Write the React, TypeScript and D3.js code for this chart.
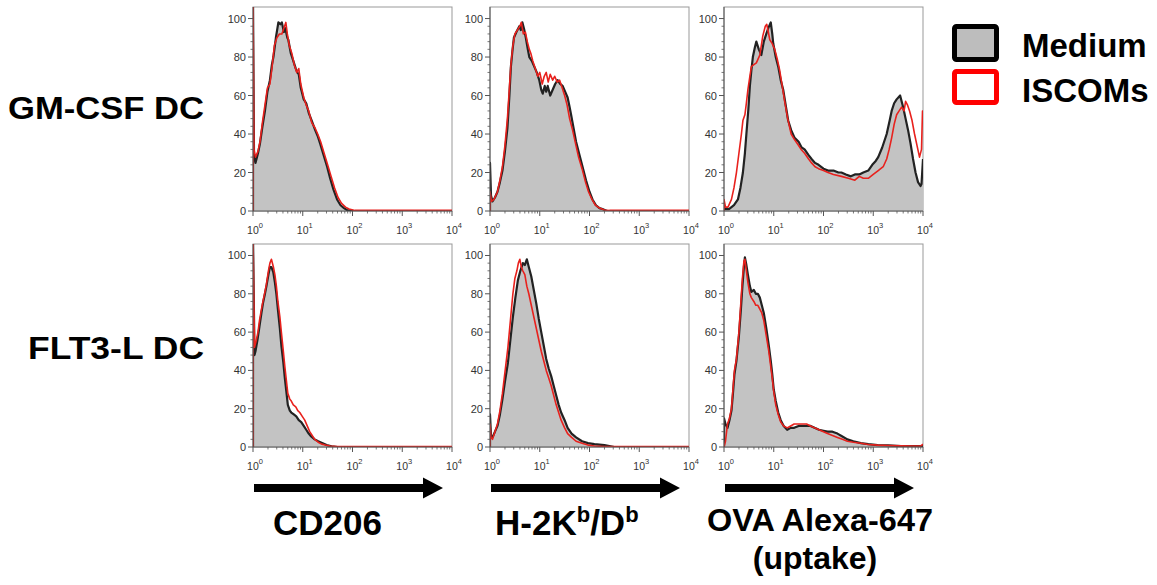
import React from "react";
import * as d3 from "d3";

// ---------- data: [log10 fluorescence, % of max] ----------
const rowLabels = ["GM-CSF DC", "FLT3-L DC"];
const seriesNames = ["Medium", "ISCOMs"];
const decadeExponents = [0, 1, 2, 3, 4];
const yTicks = [0, 20, 40, 60, 80, 100];

const gmCd206Medium = [[0,0],[0,110],[0.02,30],[0.05,25],[0.1,30],[0.14,35],[0.19,44],[0.24,52],[0.29,62],[0.34,68],[0.38,76],[0.41,80],[0.46,90],[0.51,98],[0.55,97],[0.58,98],[0.62,93],[0.65,95],[0.69,90],[0.71,89],[0.76,82],[0.81,78],[0.86,74],[0.89,72],[0.92,71],[0.96,64],[1.02,58],[1.07,56],[1.12,51],[1.18,47],[1.25,42],[1.3,39],[1.35,35],[1.42,29],[1.49,23],[1.55,17],[1.62,11],[1.69,6],[1.76,3],[1.83,1.5],[1.89,0.5],[2.02,0],[4,0]];
const gmCd206Iscoms = [[0,0],[0,110],[0.02,32],[0.05,28],[0.1,31],[0.14,36],[0.19,46],[0.24,55],[0.29,64],[0.34,66],[0.38,74],[0.43,86],[0.48,90],[0.53,92],[0.58,92],[0.62,95],[0.66,98],[0.69,92],[0.73,86],[0.78,82],[0.83,76],[0.88,72],[0.92,74],[0.96,66],[1.02,59],[1.07,55],[1.12,52],[1.18,46],[1.25,43],[1.3,40],[1.36,36],[1.43,30],[1.5,24],[1.57,18],[1.64,12],[1.71,7],[1.78,4],[1.86,2],[1.93,1],[2.05,0.3],[4,0.3]];

const gmH2kMedium = [[0,0],[0,25],[0.02,8],[0.05,5],[0.1,7],[0.15,10],[0.2,15],[0.25,21],[0.3,31],[0.35,43],[0.39,60],[0.42,75],[0.45,83],[0.48,90],[0.53,93],[0.59,96],[0.62,94],[0.65,98],[0.69,94],[0.72,90],[0.76,84],[0.79,80],[0.84,78],[0.89,75],[0.94,72],[0.99,68],[1.03,63],[1.06,61],[1.1,65],[1.13,62],[1.16,65],[1.21,60],[1.26,63],[1.31,66],[1.36,68],[1.41,66],[1.46,65],[1.51,62],[1.56,59],[1.6,54],[1.63,50],[1.68,43],[1.73,36],[1.8,29],[1.86,23],[1.93,16],[2.0,10],[2.06,6],[2.13,3],[2.2,1.5],[2.26,1],[2.35,0],[4,0]];
const gmH2kIscoms = [[0,0],[0,10],[0.03,5],[0.08,6],[0.15,10],[0.2,16],[0.25,23],[0.3,34],[0.35,48],[0.39,64],[0.42,76],[0.46,86],[0.5,92],[0.55,94],[0.6,96],[0.63,98],[0.67,92],[0.71,93],[0.75,88],[0.79,84],[0.82,82],[0.86,78],[0.91,74],[0.96,70],[1.0,72],[1.05,66],[1.09,70],[1.13,72],[1.17,67],[1.21,71],[1.26,68],[1.3,70],[1.35,67],[1.4,68],[1.45,64],[1.5,60],[1.55,55],[1.6,48],[1.66,42],[1.72,35],[1.78,28],[1.85,22],[1.92,15],[1.98,10],[2.05,6],[2.12,3],[2.2,1.5],[2.3,0.5],[2.4,0.3],[4,0.3]];

const gmOvaMedium = [[0,1],[0.1,1],[0.2,3],[0.28,6],[0.33,12],[0.38,20],[0.42,30],[0.45,40],[0.49,53],[0.52,65],[0.55,73],[0.58,80],[0.62,85],[0.65,88],[0.7,84],[0.75,81],[0.8,88],[0.85,92],[0.89,95],[0.94,98],[0.97,92],[0.99,87],[1.04,80],[1.09,75],[1.14,68],[1.19,63],[1.24,55],[1.29,47],[1.35,42],[1.42,38],[1.5,36],[1.56,33],[1.62,32],[1.7,29],[1.76,27],[1.83,25],[1.9,24],[2.0,22],[2.09,21],[2.2,21],[2.3,20],[2.36,20],[2.45,19],[2.55,18],[2.63,19],[2.72,19],[2.8,20],[2.9,21],[2.98,24],[3.05,26],[3.1,28],[3.18,33],[3.27,40],[3.33,47],[3.37,52],[3.42,56],[3.47,58],[3.54,60],[3.6,54],[3.65,48],[3.7,42],[3.75,35],[3.8,27],[3.85,20],[3.9,15],[3.95,13],[3.97,14],[4.0,27]];
const gmOvaIscoms = [[0,0],[0,6],[0.03,2],[0.08,2],[0.15,6],[0.2,12],[0.25,20],[0.3,30],[0.35,40],[0.38,47],[0.42,50],[0.45,56],[0.48,63],[0.52,70],[0.55,75],[0.6,76],[0.65,77],[0.72,81],[0.78,91],[0.83,96],[0.86,97],[0.89,93],[0.92,89],[0.97,87],[1.02,84],[1.07,79],[1.12,73],[1.17,65],[1.22,57],[1.28,48],[1.35,40],[1.42,37],[1.5,34],[1.55,32],[1.62,30],[1.7,27],[1.76,25],[1.83,23],[1.9,22],[2.0,21],[2.09,20],[2.2,19],[2.36,18],[2.5,17],[2.63,16],[2.72,18],[2.8,17],[2.9,17],[3.0,19],[3.1,21],[3.2,23],[3.27,27],[3.32,32],[3.37,38],[3.42,45],[3.47,50],[3.52,52],[3.57,54],[3.62,52],[3.65,57],[3.69,55],[3.73,52],[3.78,47],[3.83,40],[3.88,34],[3.93,28],[3.97,32],[3.99,52],[4.0,52]];

const flCd206Medium = [[0,0],[0,110],[0.03,48],[0.05,50],[0.09,56],[0.13,63],[0.17,70],[0.2,75],[0.24,80],[0.27,84],[0.31,90],[0.34,94],[0.37,94],[0.41,91],[0.44,86],[0.47,80],[0.5,72],[0.54,62],[0.57,53],[0.61,44],[0.64,36],[0.67,29],[0.7,22],[0.74,19],[0.77,18],[0.82,17],[0.87,16],[0.92,14],[0.97,13],[1.02,11],[1.07,9],[1.12,7],[1.17,5.5],[1.24,4],[1.31,3],[1.4,2],[1.48,1],[1.58,0.4],[1.7,0],[4,0]];
const flCd206Iscoms = [[0,0],[0,110],[0.03,52],[0.06,55],[0.1,60],[0.13,66],[0.17,72],[0.2,76],[0.24,81],[0.27,85],[0.31,92],[0.34,96],[0.37,98],[0.41,94],[0.44,90],[0.47,84],[0.5,76],[0.54,68],[0.57,60],[0.61,50],[0.64,42],[0.67,35],[0.7,28],[0.74,25],[0.77,24],[0.81,22],[0.86,21],[0.9,19],[0.94,18],[0.99,16],[1.04,14],[1.09,11],[1.14,8],[1.19,6],[1.24,4],[1.31,2.5],[1.38,1.5],[1.46,1],[1.55,0.5],[1.7,0.3],[4,0.3]];

const flH2kMedium = [[0,0],[0,17],[0.02,6],[0.05,5],[0.1,8],[0.15,11],[0.2,17],[0.25,25],[0.3,34],[0.36,44],[0.41,56],[0.46,68],[0.51,78],[0.56,87],[0.61,92],[0.66,96],[0.7,95],[0.74,98],[0.78,94],[0.83,89],[0.88,82],[0.93,75],[0.98,67],[1.03,60],[1.08,53],[1.13,46],[1.18,41],[1.23,37],[1.28,32],[1.33,27],[1.38,22],[1.43,18],[1.5,14],[1.56,10],[1.64,7],[1.73,5],[1.85,3],[1.97,2],[2.1,1.5],[2.3,1],[2.4,0.5],[2.5,0],[4,0]];
const flH2kIscoms = [[0,0],[0,12],[0.02,5],[0.05,4],[0.1,8],[0.15,12],[0.2,19],[0.25,28],[0.3,39],[0.36,52],[0.41,66],[0.46,80],[0.5,88],[0.54,92],[0.57,96],[0.6,98],[0.63,94],[0.66,92],[0.7,90],[0.74,84],[0.78,80],[0.83,74],[0.88,68],[0.93,62],[0.98,56],[1.03,50],[1.08,45],[1.13,40],[1.18,36],[1.23,32],[1.28,27],[1.33,22],[1.38,18],[1.43,14],[1.5,10],[1.56,7],[1.64,5],[1.73,3],[1.85,2],[1.97,1],[2.1,0.5],[2.3,0.3],[4,0.3]];

const flOvaMedium = [[0,0],[0,15],[0.03,12],[0.07,10],[0.11,14],[0.15,19],[0.18,28],[0.21,38],[0.25,45],[0.3,58],[0.34,72],[0.37,84],[0.4,94],[0.42,99],[0.45,95],[0.48,90],[0.52,84],[0.55,81],[0.6,82],[0.64,80],[0.68,80],[0.72,78],[0.76,74],[0.8,70],[0.85,62],[0.9,53],[0.94,45],[0.97,38],[1.0,30],[1.04,24],[1.09,18],[1.14,14],[1.2,11],[1.27,9],[1.34,10],[1.41,10],[1.5,11],[1.58,11],[1.66,11],[1.74,11],[1.82,10],[1.91,9],[2.0,8.5],[2.08,8],[2.18,8],[2.28,7],[2.38,5.5],[2.48,4],[2.6,3],[2.75,2],[2.9,1.5],[3.09,1],[3.3,0.8],[3.56,0.5],[3.8,0.5],[4,0.5]];
const flOvaIscoms = [[0,0],[0.03,3],[0.07,12],[0.11,15],[0.15,20],[0.18,30],[0.21,40],[0.25,46],[0.3,60],[0.34,76],[0.37,88],[0.4,97],[0.42,98],[0.45,92],[0.48,86],[0.52,80],[0.55,78],[0.6,76],[0.64,74],[0.68,74],[0.72,72],[0.76,70],[0.8,66],[0.85,58],[0.9,50],[0.94,42],[0.97,36],[1.0,29],[1.04,22],[1.09,17],[1.14,13],[1.2,11],[1.27,10],[1.34,11],[1.41,12],[1.5,12],[1.58,12],[1.66,12],[1.74,11],[1.82,10],[1.91,9],[2.0,8],[2.08,7],[2.18,6],[2.28,5],[2.38,4],[2.48,3],[2.6,2.5],[2.75,2],[2.9,1.3],[3.09,1],[3.3,0.8],[3.56,0.6],[3.8,0.5],[3.95,0.5],[4,1.5]];

// ---------- layout ----------
const W = 1157, H = 585;
const colLeft = [253, 490, 724];
const panelW = 199;
const rowTop = [7, 244];
const rowBottom = [211, 447];
const yMax = 106;

const panels = [
  { row: 0, col: 0, medium: gmCd206Medium, iscoms: gmCd206Iscoms },
  { row: 0, col: 1, medium: gmH2kMedium, iscoms: gmH2kIscoms },
  { row: 0, col: 2, medium: gmOvaMedium, iscoms: gmOvaIscoms },
  { row: 1, col: 0, medium: flCd206Medium, iscoms: flCd206Iscoms },
  { row: 1, col: 1, medium: flH2kMedium, iscoms: flH2kIscoms },
  { row: 1, col: 2, medium: flOvaMedium, iscoms: flOvaIscoms },
];

const FONT = "Liberation Sans, Arial, Helvetica, sans-serif";

function Panel({ p, idx }: { p: any; idx: number }) {
  const x0 = colLeft[p.col];
  const x1 = x0 + panelW;
  const yb = rowBottom[p.row];
  const yt = rowTop[p.row];
  const x = d3.scaleLog().domain([1, 1e4]).range([x0, x1]);
  const y = d3.scaleLinear().domain([0, yMax]).range([yb, yt]);
  const toPt = (d: number[]) => [x(Math.pow(10, d[0])), y(d[1])] as [number, number];
  const line = d3.line<number[]>().x((d) => toPt(d)[0]).y((d) => toPt(d)[1]);
  const area = d3
    .area<number[]>()
    .x((d) => toPt(d)[0])
    .y0(yb)
    .y1((d) => toPt(d)[1]);
  const clipId = `clip${idx}`;
  const minorY = d3.range(0, 101, 4).filter((v) => v % 20 !== 0);
  const minorX: number[] = [];
  for (let e = 0; e < 4; e++) for (let m = 2; m <= 9; m++) minorX.push(m * Math.pow(10, e));
  const axisColor = "#555";
  return (
    <g>
      <defs>
        <clipPath id={clipId}>
          <rect x={x0} y={yt} width={panelW} height={yb - yt} />
        </clipPath>
      </defs>
      <rect x={x0} y={yt} width={panelW} height={yb - yt} fill="#fff" stroke="#999" strokeWidth={1} />
      <g clipPath={`url(#${clipId})`}>
        <path d={area(p.medium) || ""} fill="#c3c3c3" />
        <path d={line(p.medium) || ""} fill="none" stroke="#222" strokeWidth={2.2} strokeLinejoin="round" />
        <path d={line(p.iscoms) || ""} fill="none" stroke="#e8211d" strokeWidth={1.6} strokeLinejoin="round" />
      </g>
      {/* y axis */}
      <line x1={x0} x2={x0} y1={yt} y2={yb} stroke={axisColor} strokeWidth={1} />
      {yTicks.map((t) => (
        <g key={`y${t}`}>
          <line x1={x0 - 5} x2={x0} y1={y(t)} y2={y(t)} stroke={axisColor} strokeWidth={1} />
          <text x={x0 - 7} y={y(t) + 4} textAnchor="end" fontSize={11} fontFamily={FONT} fill="#333">
            {t}
          </text>
        </g>
      ))}
      {minorY.map((t) => (
        <line key={`ym${t}`} x1={x0 - 2.5} x2={x0} y1={y(t)} y2={y(t)} stroke={axisColor} strokeWidth={0.8} />
      ))}
      {/* x axis */}
      <line x1={x0} x2={x1} y1={yb} y2={yb} stroke={axisColor} strokeWidth={1} />
      {decadeExponents.map((e) => (
        <g key={`x${e}`}>
          <line x1={x(Math.pow(10, e))} x2={x(Math.pow(10, e))} y1={yb} y2={yb + 5} stroke={axisColor} strokeWidth={1} />
          <text x={x(Math.pow(10, e)) + 2} y={yb + 23} textAnchor="middle" fontSize={10.5} fontFamily={FONT} fill="#333">
            10
            <tspan dy={-6} fontSize={7.5}>
              {e}
            </tspan>
          </text>
        </g>
      ))}
      {minorX.map((v, i) => (
        <line key={`xm${i}`} x1={x(v)} x2={x(v)} y1={yb} y2={yb + 2.5} stroke={axisColor} strokeWidth={0.8} />
      ))}
    </g>
  );
}

function Arrow({ x0 }: { x0: number }) {
  const xs = x0 + 1;
  const xe = x0 + 190;
  const yc = 488;
  const head = 20;
  const d = `M${xs},${yc - 4} L${xe - head},${yc - 4} L${xe - head},${yc - 10.5} L${xe},${yc} L${xe - head},${yc + 10.5} L${xe - head},${yc + 4} L${xs},${yc + 4} Z`;
  return <path d={d} fill="#000" />;
}

export default function App() {
  return (
    <svg
      width={W}
      height={H}
      viewBox={`0 0 ${W} ${H}`}
      style={{ position: "absolute", left: 0, top: 0, background: "#fff" }}
    >
      <rect x={0} y={0} width={W} height={H} fill="#fff" />
      {panels.map((p, i) => (
        <Panel key={i} p={p} idx={i} />
      ))}

      {/* row labels */}
      <text x={8} y={119} fontSize={31} fontWeight="bold" fontFamily={FONT} textLength={196} lengthAdjust="spacingAndGlyphs">
        {rowLabels[0]}
      </text>
      <text x={28} y={359} fontSize={31} fontWeight="bold" fontFamily={FONT} textLength={176} lengthAdjust="spacingAndGlyphs">
        {rowLabels[1]}
      </text>

      {/* legend */}
      <rect x={954.5} y={26.5} width={42} height={33} rx={2} fill="#bdbdbd" stroke="#000" strokeWidth={5} />
      <rect x={954.5} y={71.5} width={42} height={31} rx={2} fill="#fff" stroke="#ff0000" strokeWidth={5} />
      <text x={1022} y={57} fontSize={33} fontWeight="bold" fontFamily={FONT}>
        {seriesNames[0]}
      </text>
      <text x={1022} y={102} fontSize={33} fontWeight="bold" fontFamily={FONT}>
        {seriesNames[1]}
      </text>

      {/* axis arrows and labels */}
      {colLeft.map((c) => (
        <Arrow key={c} x0={c} />
      ))}
      <text x={273} y={535} fontSize={35} fontWeight="bold" fontFamily={FONT}>
        CD206
      </text>
      <text x={495} y={535} fontSize={35} fontWeight="bold" fontFamily={FONT}>
        H-2K
        <tspan dy={-13} fontSize={22}>b</tspan>
        <tspan dy={13}>/D</tspan>
        <tspan dy={-13} fontSize={22}>b</tspan>
      </text>
      <text x={820} y={531} textAnchor="middle" fontSize={32} fontWeight="bold" fontFamily={FONT} textLength={226} lengthAdjust="spacingAndGlyphs">
        OVA Alexa-647
      </text>
      <text x={815} y={569} textAnchor="middle" fontSize={32} fontWeight="bold" fontFamily={FONT}>
        (uptake)
      </text>
    </svg>
  );
}
